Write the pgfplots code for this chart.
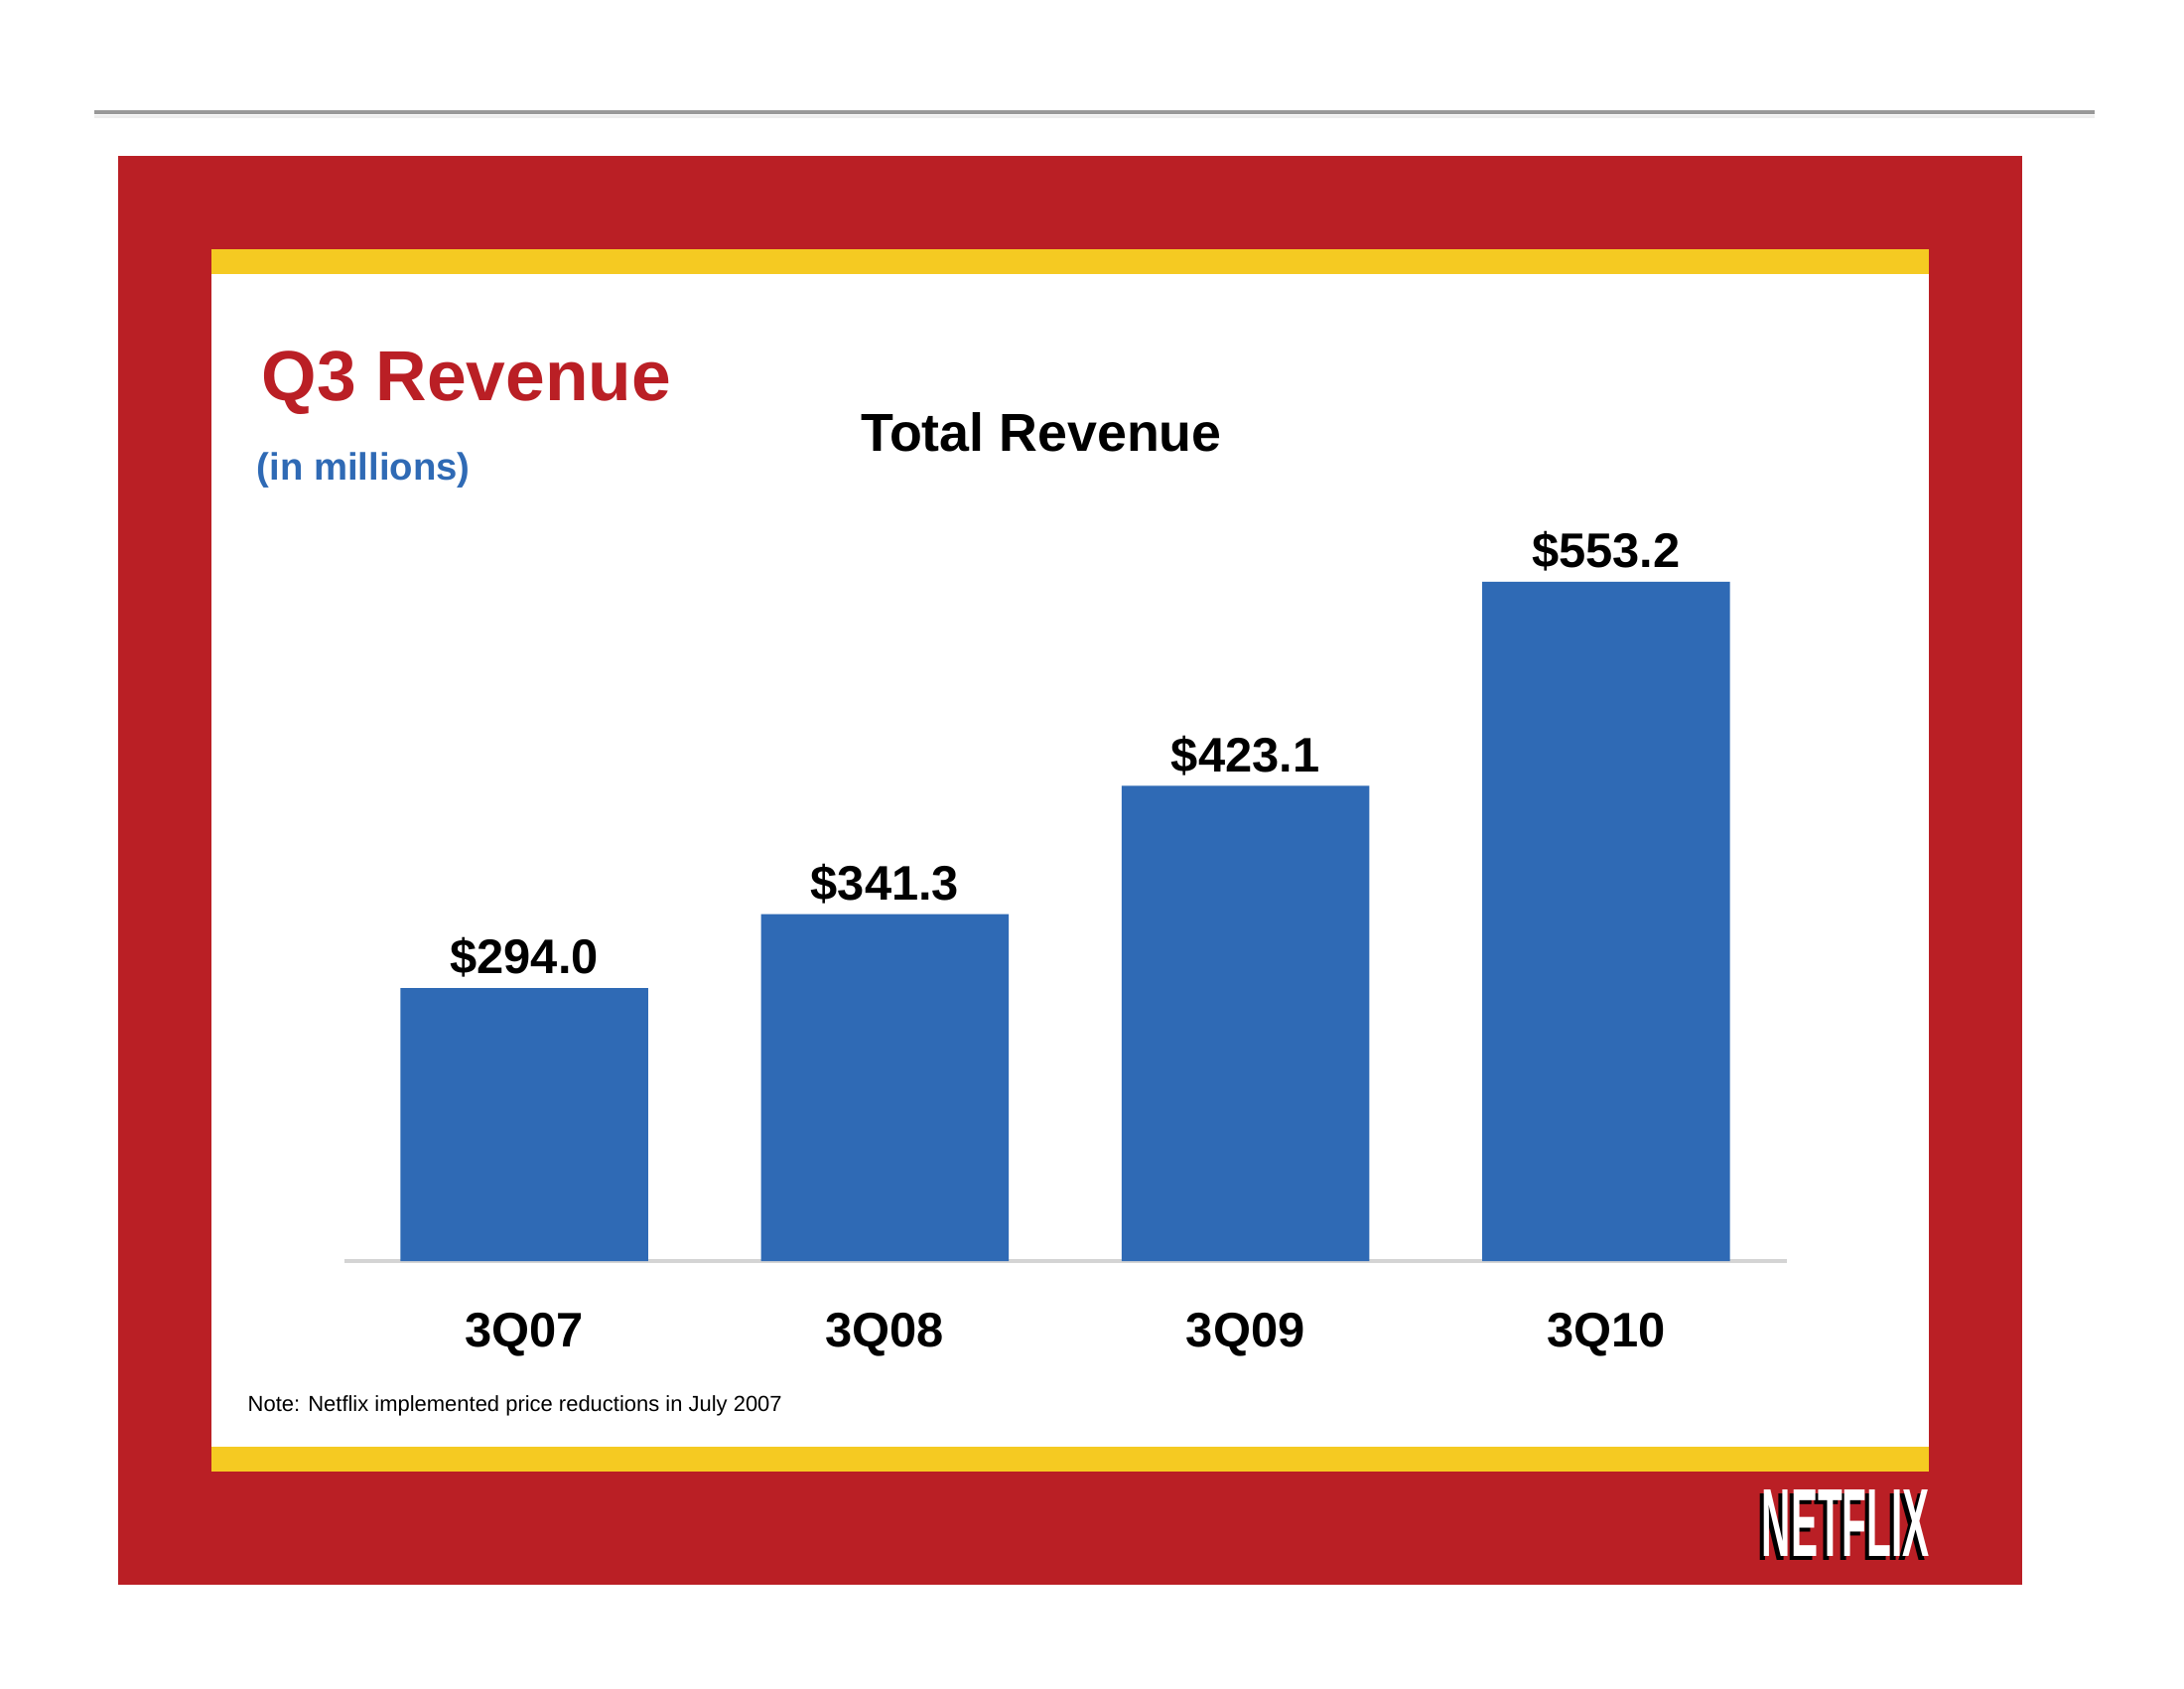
\documentclass[border=0pt]{standalone}
\usepackage{fontspec}
\setmainfont{Liberation Sans}
\usepackage{pgfplots}
\pgfplotsset{compat=1.18}
\definecolor{nfred}{HTML}{BA1F25}
\definecolor{nfyellow}{HTML}{F5CA22}
\definecolor{nfblue}{HTML}{2F6AB5}
\definecolor{baseline}{HTML}{D4D4D4}
\begin{document}
\begin{tikzpicture}
	\useasboundingbox (0,0) rectangle (22,17);
	\fill[white] (0,0) rectangle (22,17);
	% rule at the top of the page
	\draw[line width=0.04cm, color=black!40] (0.95,15.87) -- (21.10,15.87);
	\draw[line width=0.03cm, color=black!7] (0.95,15.82) -- (21.10,15.82);
	% frame
	\fill[nfred] (1.19,1.04) rectangle (20.37,15.43);
	\fill[nfyellow] (2.13,14.24) rectangle (19.43,14.49);
	\fill[white] (2.13,2.43) rectangle (19.43,14.24);
	\fill[nfyellow] (2.13,2.18) rectangle (19.43,2.43);
	% logo
	\node[anchor=south west, inner sep=0pt, text=black] at (17.70,1.28)
		{\resizebox{1.69cm}{0.67cm}{\bfseries NETFLIX}};
	\node[anchor=south west, inner sep=0pt, text=white] at (17.74,1.32)
		{\resizebox{1.69cm}{0.67cm}{\bfseries NETFLIX}};
	% titles
	\node[anchor=base west, inner sep=0pt, text=nfred, font=\fontsize{20.3}{24}\selectfont\bfseries]
		at (2.63,12.96) {Q3 Revenue};
	\node[anchor=base west, inner sep=0pt, text=nfblue, font=\fontsize{10.9}{13}\selectfont\bfseries]
		at (2.58,12.16) {(in millions)};
	\node[anchor=base, inner sep=0pt, font=\fontsize{15.3}{18}\selectfont\bfseries]
		at (10.49,12.45) {Total Revenue};
	\node[anchor=base west, inner sep=0pt, font=\fontsize{6.25}{8}\selectfont]
		at (2.49,2.79) {Note: Netflix implemented price reductions in July 2007};

	\begin{axis}[
		at={(3.465cm,4.30cm)},
		anchor=south west,
		scale only axis,
		width=14.53cm,
		height=7.58cm,
		xmin=-0.5, xmax=3.5,
		ymin=120, ymax=600,
		axis x line*=bottom,
		axis y line=none,
		x axis line style={color=baseline, line width=1.2pt},
		major tick length=0pt,
		xtick=data,
		xticklabels={3Q07, 3Q08, 3Q09, 3Q10},
		xticklabel style={font=\fontsize{13.9}{16}\selectfont\bfseries, inner sep=0pt, anchor=north},
		xticklabel shift=0.515cm,
		ybar,
		bar width=2.495cm,
		point meta=explicit symbolic,
		nodes near coords,
		every node near coord/.append style={font=\fontsize{13.9}{16}\selectfont\bfseries, inner sep=0pt, yshift=0.10cm},
		clip=false,
	]
		\addplot[fill=nfblue, draw=none] coordinates {
			(0, 294.0) [\$294.0]
			(1, 341.3) [\$341.3]
			(2, 423.1) [\$423.1]
			(3, 553.2) [\$553.2]
		};
	\end{axis}
\end{tikzpicture}
\end{document}
